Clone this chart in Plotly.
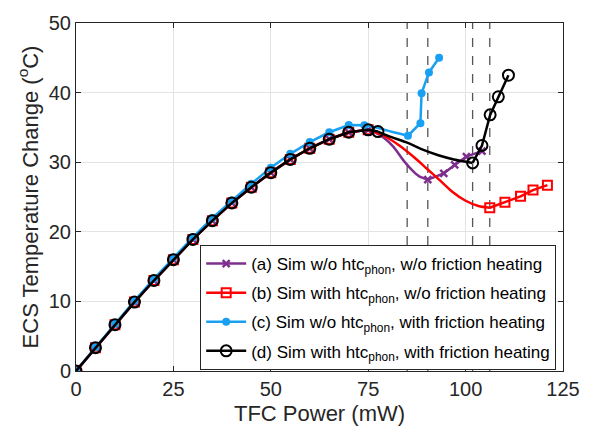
import plotly.graph_objects as go

# ---- data (TFC power in mW, ECS temperature change in degC) ----
# shared ramp points of the simulations
power_ramp = [0, 5, 10, 15, 20, 25, 30, 35, 40, 45, 50, 55, 60, 65, 70, 75]
temp_ramp = [0, 3.35, 6.65, 9.9, 13.0, 16.0, 18.9, 21.6, 24.15, 26.4, 28.5, 30.4, 32.0, 33.3, 34.3, 34.65]

# (a) w/o htc_phon, w/o friction heating
a_curve_power = [77, 79, 81.5, 84, 86, 88]
a_curve_temp = [34.2, 33.5, 32.2, 30.3, 29.0, 28.0]
a_tail_power = [90.3, 94.4, 97.2, 100.2, 104.2]
a_tail_temp = [27.5, 28.4, 29.6, 30.8, 31.6]

# (b) with htc_phon, w/o friction heating
b_curve_power = [79, 83, 87, 90, 93.2, 96.5, 99.9, 103.3]
b_curve_temp = [33.8, 32.4, 30.6, 29.1, 27.5, 25.8, 24.5, 23.7]
b_tail_power = [106.2, 110.1, 114.1, 117.3, 121.0]
b_tail_temp = [23.45, 24.25, 25.1, 26.0, 26.7]

# (c) w/o htc_phon, with friction heating
c_ramp_power = [0, 5, 10, 15, 20, 25, 30, 35, 40, 45, 50, 55, 60, 65, 70, 74]
c_ramp_temp = [0, 3.4, 6.8, 10.1, 13.25, 16.3, 19.2, 22.0, 24.5, 26.9, 29.2, 31.2, 32.9, 34.3, 35.35, 35.3]
c_curve_power = [78, 81.5]
c_curve_temp = [34.85, 34.3]
c_tail_power = [85.2, 88.4, 88.7, 90.6, 93.2]
c_tail_temp = [33.8, 35.6, 39.9, 42.9, 45.0]

# (d) with htc_phon, with friction heating
d_ramp_power = power_ramp + [77.5]
d_ramp_temp = temp_ramp + [34.4]
d_curve_power = [81, 85, 89, 93, 97]
d_curve_temp = [33.6, 32.8, 31.8, 31.0, 30.4]
d_tail_power = [101.8, 104.2, 106.3, 108.4, 111.0]
d_tail_temp = [29.9, 32.4, 36.8, 39.4, 42.5]

# power at which each curve reaches its minimum
transition_power = [85.0, 90.3, 101.8, 106.2]

x_ticks = [0, 25, 50, 75, 100, 125]
y_ticks = [0, 10, 20, 30, 40, 50]

PURPLE = "#7E2F8E"
RED = "#FF0000"
CYAN = "#1AA0F2"
BLACK = "#000000"
FONT = "Liberation Sans, Arial, Helvetica, sans-serif"

series = [
    dict(name="(a) Sim w/o htc<sub>phon</sub>, w/o friction heating", color=PURPLE,
         ramp=(power_ramp, temp_ramp), curve=(a_curve_power, a_curve_temp),
         tail=(a_tail_power, a_tail_temp),
         marker=dict(symbol="x-thin", size=7, line=dict(width=2.5, color=PURPLE))),
    dict(name="(b) Sim with htc<sub>phon</sub>, w/o friction heating", color=RED,
         ramp=(power_ramp, temp_ramp), curve=(b_curve_power, b_curve_temp),
         tail=(b_tail_power, b_tail_temp),
         marker=dict(symbol="square-open", size=9, line=dict(width=2, color=RED))),
    dict(name="(c) Sim w/o htc<sub>phon</sub>, with friction heating", color=CYAN,
         ramp=(c_ramp_power, c_ramp_temp), curve=(c_curve_power, c_curve_temp),
         tail=(c_tail_power, c_tail_temp),
         marker=dict(symbol="circle", size=8, color=CYAN)),
    dict(name="(d) Sim with htc<sub>phon</sub>, with friction heating", color=BLACK,
         ramp=(d_ramp_power, d_ramp_temp), curve=(d_curve_power, d_curve_temp),
         tail=(d_tail_power, d_tail_temp),
         marker=dict(symbol="circle-open", size=11, line=dict(width=2, color=BLACK))),
]

fig = go.Figure()

for i, s in enumerate(series):
    rx, ry = s["ramp"]
    cx, cy = s["curve"]
    tx, ty = s["tail"]
    # smooth transition between the last ramp point and the first tail point
    fig.add_trace(go.Scatter(
        x=[rx[-1]] + cx + [tx[0]], y=[ry[-1]] + cy + [ty[0]],
        mode="lines", line=dict(color=s["color"], width=2.5, shape="spline", smoothing=0.8),
        legendgroup=str(i), showlegend=False, hoverinfo="skip"))
    # simulated points with markers (ramp and tail, gap in between)
    fig.add_trace(go.Scatter(
        x=rx + [None] + tx, y=ry + [None] + ty,
        mode="lines+markers", name=s["name"], legendgroup=str(i),
        connectgaps=False,
        line=dict(color=s["color"], width=2.5), marker=s["marker"]))

for xp in transition_power:
    fig.add_shape(type="line", xref="x", yref="paper", x0=xp, x1=xp, y0=0, y1=1,
                  line=dict(color="#555555", width=1.3, dash="dash"), layer="below")

axis_common = dict(
    showline=True, linecolor="#262626", linewidth=1, mirror="ticks",
    ticks="inside", ticklen=5, tickcolor="#262626",
    showgrid=True, gridcolor="#E3E3E3", gridwidth=1, zeroline=False,
    tickfont=dict(family=FONT, size=20, color="#262626"),
)

fig.update_xaxes(range=[0, 125], tickvals=x_ticks,
                 title=dict(text="TFC Power (mW)", font=dict(family=FONT, size=22, color="#262626"),
                            standoff=6),
                 **axis_common)
fig.update_yaxes(range=[0, 50], tickvals=y_ticks,
                 title=dict(text="ECS Temperature Change (<sup>o</sup>C)",
                            font=dict(family=FONT, size=22, color="#262626"), standoff=4),
                 **axis_common)

fig.update_layout(
    width=592, height=434,
    margin=dict(l=76, r=18, t=17, b=63),
    paper_bgcolor="white", plot_bgcolor="white",
    font=dict(family=FONT, color="#000000"),
    legend=dict(x=0.255, y=0.362, xanchor="left", yanchor="top",
                bgcolor="white", bordercolor="#262626", borderwidth=1,
                font=dict(family=FONT, size=17, color="#000000"),
                tracegroupgap=4, itemwidth=40),
)

fig.write_html("out.html")
